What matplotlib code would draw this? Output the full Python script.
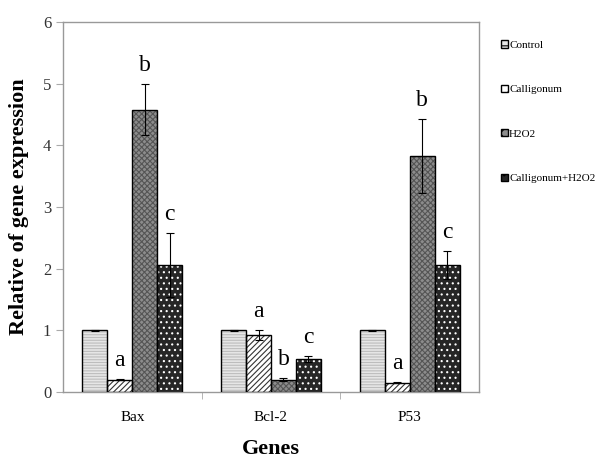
import numpy as np
import matplotlib.pyplot as plt
from matplotlib.patches import Patch

plt.rcParams['font.family'] = ['Liberation Serif', 'DejaVu Serif']
plt.rcParams['hatch.linewidth'] = 0.8

genes = ['Bax', 'Bcl-2', 'P53']
groups = ['Control', 'Calligonum', 'H2O2', 'Calligonum+H2O2']

control = [1.0, 1.0, 1.0]
calligonum = [0.2, 0.93, 0.15]
h2o2 = [4.58, 0.2, 3.83]
combo = [2.06, 0.53, 2.06]

control_err = [0.01, 0.01, 0.01]
calligonum_err = [0.01, 0.08, 0.01]
h2o2_err = [0.42, 0.02, 0.6]
combo_err = [0.52, 0.05, 0.23]

letters = [['', 'a', 'b', 'c'], ['', 'a', 'b', 'c'], ['', 'a', 'b', 'c']]

values = [control, calligonum, h2o2, combo]
errors = [control_err, calligonum_err, h2o2_err, combo_err]
faces = ['#e6e6e6', 'white', '#8c8c8c', '#262626']
hatches = ['------', '//////', 'xxxxxx', '...']
hatch_cols = ['#bdbdbd', '#333333', '#555555', 'white']

fig = plt.figure(figsize=(5.97, 4.58), dpi=100)
ax = fig.add_axes([63/597, 1 - 392/458, 416/597, 370/458])

x = np.arange(len(genes))
w = 0.18
for i in range(4):
    pos = x + (i - 1.5) * w
    ax.bar(pos, values[i], w, color=faces[i], edgecolor=hatch_cols[i],
           hatch=hatches[i], linewidth=0, zorder=2)
    ax.bar(pos, values[i], w, color='none', edgecolor='black', linewidth=1.0, zorder=3)
    ax.errorbar(pos, values[i], yerr=errors[i], fmt='none', ecolor='black',
                elinewidth=0.8, capsize=3, capthick=0.8, zorder=4)
    for j in range(len(genes)):
        if letters[j][i]:
            ax.text(pos[j], values[i][j] + errors[i][j] + 0.13, letters[j][i],
                    ha='center', va='bottom', fontsize=17)

ax.set_xlim(-0.5, 2.5)
ax.set_ylim(0, 6)
ax.set_xticks(x)
ax.set_xticklabels(genes, fontsize=11)
ax.set_xticks([0.5, 1.5], minor=True)
ax.tick_params(axis='x', which='major', length=0, pad=14)
ax.tick_params(axis='x', which='minor', length=5, color='#aaaaaa')
ax.tick_params(axis='y', labelsize=12, color='#aaaaaa', length=5, labelcolor='#333333')
for s in ax.spines.values():
    s.set_color('#999999')
    s.set_linewidth(1.0)

ax.set_ylabel('Relative of gene expression', fontsize=16, fontweight='bold', labelpad=10)
ax.set_xlabel('Genes', fontsize=16, fontweight='bold')
ax.xaxis.set_label_coords(0.5, -0.128)

handles = [Patch(facecolor=faces[i], edgecolor='black', hatch=hatches[i][:2]) for i in range(4)]
leg = fig.legend(handles, groups, loc='upper left', bbox_to_anchor=(497/597, 1 - 36/458),
                 frameon=False, fontsize=8, handlelength=0.6, handleheight=0.6,
                 handletextpad=0.08, labelspacing=3.15, borderaxespad=0)

fig.savefig('out.png', dpi=100)
